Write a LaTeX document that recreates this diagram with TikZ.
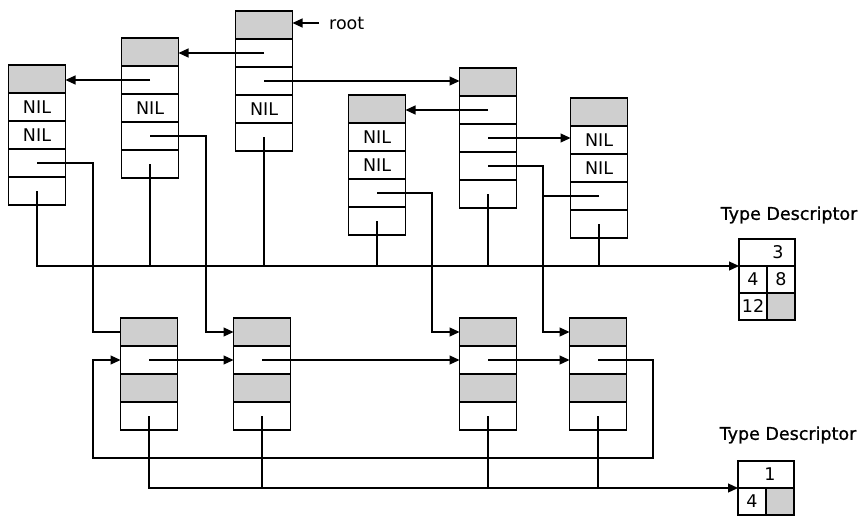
\documentclass[tikz,border=0pt]{standalone}
\usepackage{fontspec}
\setmainfont{DejaVu Sans}
\newfontfamily\tdfont[FakeBold=1]{DejaVu Sans}
\usetikzlibrary{arrows.meta}
\begin{document}
\begin{tikzpicture}[x=1pt,y=-1pt,
  cell/.style={draw, line width=1.4pt, minimum width=57pt, minimum height=28pt,
    inner sep=0pt, outer sep=0pt, font=\fontsize{17.5}{18}\selectfont},
  shaded/.style={cell, fill=black!19},
  tdcell/.style={cell, minimum width=28pt, minimum height=27pt},
  tdshaded/.style={tdcell, fill=black!19},
  tdtop/.style={cell, minimum width=56pt, minimum height=27pt},
  wire/.style={line width=1.2pt},
  arr/.style={wire, -{Triangle[length=10pt,width=9pt]}},
  lbl/.style={font=\fontsize{17.5}{18}\selectfont, inner sep=0pt},
  tdlbl/.style={font=\tdfont\fontsize{17.5}{18}\selectfont, inner sep=0pt}]
\useasboundingbox (0,0) rectangle (867,519);
% ---------- top records ----------
% A
\node[shaded] (A0) at (37,79) {};
\node[cell] (A1) at (37,107) {NIL};
\node[cell] (A2) at (37,135) {NIL};
\node[cell] (A3) at (37,163) {};
\node[cell] (A4) at (37,191) {};
% B
\node[shaded] (B0) at (150,52) {};
\node[cell] (B1) at (150,80) {};
\node[cell] (B2) at (150,108) {NIL};
\node[cell] (B3) at (150,136) {};
\node[cell] (B4) at (150,164) {};
% C (root)
\node[shaded] (C0) at (264,25) {};
\node[cell] (C1) at (264,53) {};
\node[cell] (C2) at (264,81) {};
\node[cell] (C3) at (264,109) {NIL};
\node[cell] (C4) at (264,137) {};
% E
\node[shaded] (E0) at (377,109) {};
\node[cell] (E1) at (377,137) {NIL};
\node[cell] (E2) at (377,165) {NIL};
\node[cell] (E3) at (377,193) {};
\node[cell] (E4) at (377,221) {};
% D
\node[shaded] (D0) at (488,82) {};
\node[cell] (D1) at (488,110) {};
\node[cell] (D2) at (488,138) {};
\node[cell] (D3) at (488,166) {};
\node[cell] (D4) at (488,194) {};
% F
\node[shaded] (F0) at (599,112) {};
\node[cell] (F1) at (599,140) {NIL};
\node[cell] (F2) at (599,168) {NIL};
\node[cell] (F3) at (599,196) {};
\node[cell] (F4) at (599,224) {};
% ---------- bottom records ----------
\node[shaded] (M0) at (149,332) {};
\node[cell] (M1) at (149,360) {};
\node[shaded] (M2) at (149,388) {};
\node[cell] (M3) at (149,416) {};
\node[shaded] (N0) at (262,332) {};
\node[cell] (N1) at (262,360) {};
\node[shaded] (N2) at (262,388) {};
\node[cell] (N3) at (262,416) {};
\node[shaded] (P0) at (488,332) {};
\node[cell] (P1) at (488,360) {};
\node[shaded] (P2) at (488,388) {};
\node[cell] (P3) at (488,416) {};
\node[shaded] (Q0) at (598,332) {};
\node[cell] (Q1) at (598,360) {};
\node[shaded] (Q2) at (598,388) {};
\node[cell] (Q3) at (598,416) {};
% ---------- type descriptors ----------
\node[tdlbl] (TDl1) at (789,215) {Type Descriptor};
\node[tdtop] (T1a) at (767,252.5) {\hspace*{22pt}3};
\node[tdcell] (T1b) at (753,279.5) {4};
\node[tdcell] (T1c) at (781,279.5) {8};
\node[tdcell] (T1d) at (753,306.5) {12};
\node[tdshaded] (T1e) at (781,306.5) {};
\node[tdlbl] (TDl2) at (788,435) {Type Descriptor};
\node[tdtop] (T2a) at (766,474.5) {\hspace*{8pt}1};
\node[tdcell] (T2b) at (752,501.5) {4};
\node[tdshaded] (T2c) at (780,501.5) {};
% ---------- root ----------
\node[lbl, anchor=west, inner xsep=10pt] (rootlbl) at (319,23) {root};
\draw[arr] (rootlbl.west) -- (rootlbl.west -| C0.east);
% ---------- helper coordinates ----------
\coordinate (bus1) at (0,266);
\coordinate (bus2) at (0,488);
\coordinate (kA) at (93,332);
\coordinate (kB) at (206,332);
\coordinate (kE) at (432,332);
\coordinate (kD) at (543,332);
\coordinate (kQ) at (653,458);
\coordinate (kL) at (93,360);
% ---------- top pointers ----------
\draw[arr] (C1.center) -- (C1.center -| B0.east);
\draw[arr] (B1.center) -- (B1.center -| A0.east);
\draw[arr] (C2.center) -- (C2.center -| D0.west);
\draw[arr] (D1.center) -- (D1.center -| E0.east);
\draw[arr] (D2.center) -- (D2.center -| F1.west);
% to type descriptor 1
\draw[arr] (A4.center) |- (T1b.north west);
\foreach \n in {B4,C4,E4,D4,F4} \draw[wire] (\n.center) -- (\n.center |- bus1);
% down to bottom records
\draw[wire] (A3.center) -| (kA) -- (M0.west);
\draw[arr] (B3.center) -| (kB) -- (N0.west);
\draw[arr] (E3.center) -| (kE) -- (P0.west);
\draw[arr] (D3.center) -| (kD) -- (Q0.west);
\draw[wire] (F3.center) -- (F3.center -| kD);
% ---------- bottom pointers ----------
\draw[arr] (M1.center) -- (N1.west);
\draw[arr] (N1.center) -- (P1.west);
\draw[arr] (P1.center) -- (Q1.west);
\draw[arr] (Q1.center) -| (kQ) -| (kL) -- (M1.west);
\draw[arr] (M3.center) |- (T2b.north west);
\foreach \n in {N3,P3,Q3} \draw[wire] (\n.center) -- (\n.center |- bus2);
\end{tikzpicture}
\end{document}
